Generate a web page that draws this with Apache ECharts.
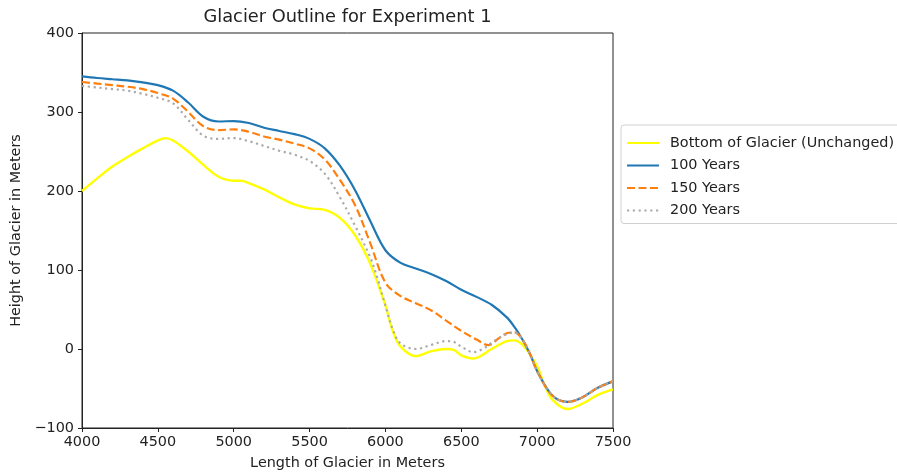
<!DOCTYPE html>
<html><head><meta charset="utf-8">
<script src="https://cdn.jsdelivr.net/npm/echarts@6/dist/echarts.min.js"></script>
<style>html,body{margin:0;padding:0;background:#fff}#c{width:897px;height:475px}</style>
</head><body><div id="c"></div>
<script>
const seriesNames = ['Bottom of Glacier (Unchanged)', '100 Years', '150 Years', '200 Years'];
const xTicks = [4000, 4500, 5000, 5500, 6000, 6500, 7000, 7500];
const yTicks = [-100, 0, 100, 200, 300, 400];

const bottomX = [4000,4100,4200,4300,4400,4500,4550,4600,4700,4800,4900,5000,5050,5100,5200,5300,5400,5500,5600,5700,5800,5900,6000,6050,6100,6200,6300,6400,6450,6500,6580,6700,6800,6850,6900,6950,7000,7050,7100,7200,7300,7400,7500];
const bottomY = [200,216,231,243,254,264,267,264,250,233,218,213,213,210,202,192,183,178,176,166,144,108,55,22,3,-9,-3,0,-1,-8,-12,0,10,11,6,-6,-22,-46,-64,-76,-69,-58,-51];

const y100X = [4000,4100,4200,4300,4400,4500,4600,4700,4800,4900,5000,5100,5200,5300,5400,5500,5600,5700,5800,5900,6000,6100,6200,6300,6400,6500,6600,6700,6800,6850,6900,6950,7000,7100,7200,7300,7400,7500];
const y100Y = [345,343,341.5,340,337.5,334,327,312,294,288,288.5,286,280,276,272,266,254,232,201,162,125,109,102,95,86,75,66,56,40,28,13,-5,-28,-59,-67,-61,-49,-41];

const y150X = [4000,4100,4200,4300,4400,4500,4600,4700,4800,4900,5000,5100,5200,5300,5400,5500,5600,5700,5800,5900,6000,6100,6200,6300,6400,6500,6600,6680,6750,6800,6850,6900,6950,7000,7100,7200,7300,7400,7500];
const y150Y = [338,336,334,332,329,324,317,300,282,277,278,275,269,265,260,254,240,214,182,134,84,67,58,49,36,23,12,5,14,20,21,13,-5,-28,-59,-67,-61,-49,-41];

const y200X = [4000,4100,4200,4300,4400,4500,4600,4700,4800,4900,5000,5100,5200,5300,5400,5500,5600,5700,5800,5900,5950,6000,6050,6100,6200,6300,6400,6450,6500,6580,6650,6700,6800,6850,6900,6950,7000,7100,7200,7300,7400,7500];
const y200Y = [333,331,329,327,323,318,311,290,270,266,267,263,257,251,246,238,222,192,156,116,88,55,24,7,0,5,10,9,3,-4,1,8,19,21,13,-5,-28,-59,-67,-61,-49,-41];

function pairs(xs, ys){ return xs.map((x,i)=>[x, ys[i]]); }
const fmt = v => String(v).replace('-', '\u2212');

const FONT = 'DejaVu Sans';
const FS = 14.4;
const LW = 2.17;
const chart = echarts.init(document.getElementById('c'), null, {renderer:'canvas'});
const axisCommon = {
  axisLine:{show:true, onZero:false, lineStyle:{color:'#222', width:1}},
  axisTick:{show:true, length:4, lineStyle:{color:'#222'}},
  splitLine:{show:false},
  axisLabel:{color:'#222', fontFamily:FONT, fontSize:FS, formatter:fmt},
  nameTextStyle:{color:'#222', fontFamily:FONT, fontSize:FS}
};
chart.setOption({
  animation:false,
  backgroundColor:'#fff',
  grid:{left:82, top:33, right:284, bottom:46, show:true, borderColor:'#222', borderWidth:1, containLabel:false},
  graphic:[{type:'text', x:347.5, y:17, style:{text:'Glacier Outline for Experiment 1', align:'center', verticalAlign:'middle', font:'17.8px "DejaVu Sans"', fill:'#222'}}],
  xAxis:Object.assign({}, axisCommon, {type:'value', min:xTicks[0], max:xTicks[xTicks.length-1], interval:500,
    name:'Length of Glacier in Meters', nameLocation:'middle', nameGap:28,
    axisLabel:Object.assign({}, axisCommon.axisLabel, {margin:7})}),
  yAxis:Object.assign({}, axisCommon, {type:'value', min:yTicks[0], max:yTicks[yTicks.length-1], interval:100,
    name:'Height of Glacier in Meters', nameLocation:'middle', nameGap:58, nameRotate:90,
    axisLabel:Object.assign({}, axisCommon.axisLabel, {margin:8})}),
  legend:{orient:'vertical', left:621, top:125, padding:[11,30,6,5], itemGap:8.5, itemWidth:32, itemHeight:14,
    backgroundColor:'#fff', borderColor:'#d0d0d0', borderWidth:1, borderRadius:3,
    itemStyle:{opacity:0},
    textStyle:{fontFamily:FONT, fontSize:FS, color:'#222', padding:[0,0,0,6]},
    data:seriesNames},
  series:[
    {name:seriesNames[0], type:'line', data:pairs(bottomX,bottomY), smooth:0.35, symbol:'none', lineStyle:{color:'#ffff00', width:LW+0.2}, itemStyle:{color:'#ffff00'}},
    {name:seriesNames[1], type:'line', data:pairs(y100X,y100Y), smooth:0.35, symbol:'none', lineStyle:{color:'#1f77b4', width:LW}, itemStyle:{color:'#1f77b4'}},
    {name:seriesNames[2], type:'line', data:pairs(y150X,y150Y), smooth:0.35, symbol:'none', lineStyle:{color:'#ff7f0e', width:LW, type:[8,3.5]}, itemStyle:{color:'#ff7f0e'}},
    {name:seriesNames[3], type:'line', data:pairs(y200X,y200Y), smooth:0.35, symbol:'none', lineStyle:{color:'#aaaaaa', width:LW, type:[2.2,3.6]}, itemStyle:{color:'#aaaaaa'}}
  ]
});
</script></body></html>
